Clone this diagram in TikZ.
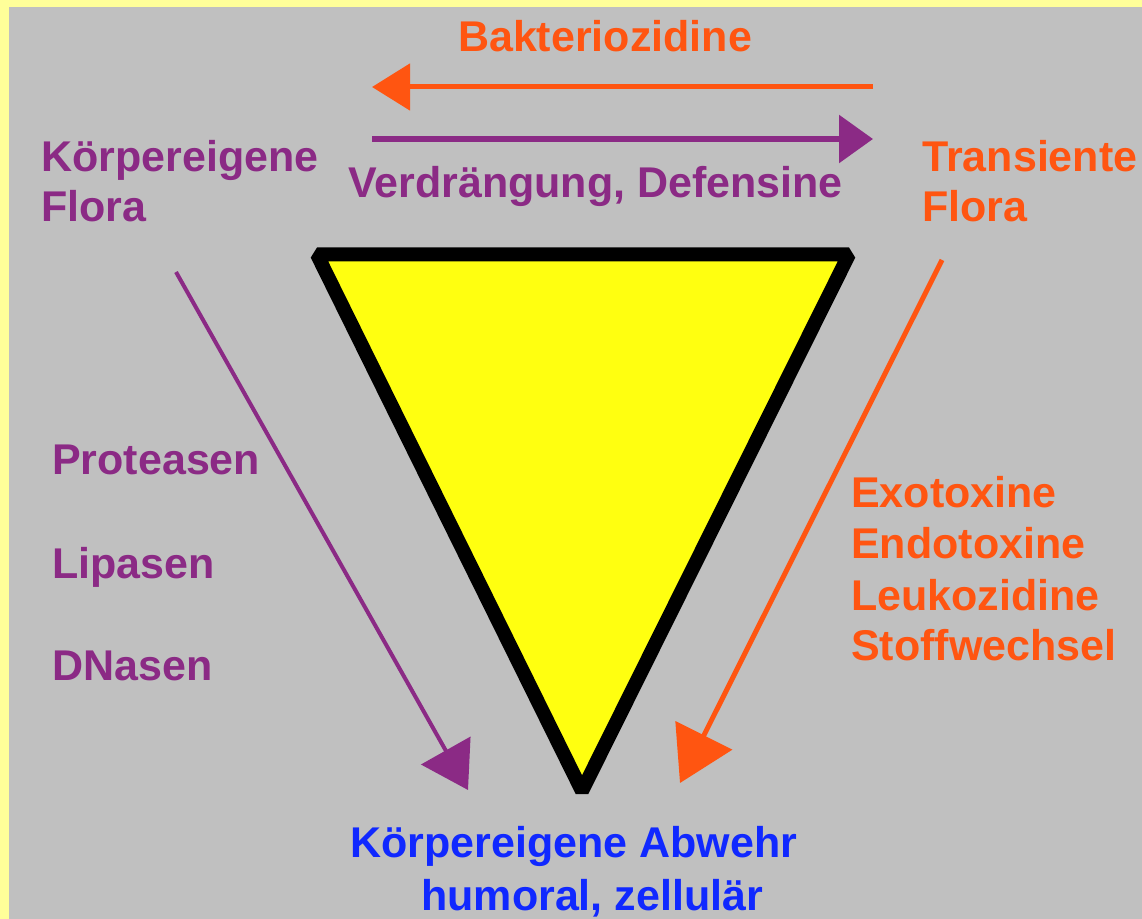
\documentclass[tikz,border=0pt]{standalone}
\usepackage{fontspec}
\setmainfont{Liberation Sans}
\usetikzlibrary{arrows.meta}
\definecolor{bgray}{HTML}{C0C0C0}
\definecolor{bordery}{HTML}{FFFF99}
\definecolor{orng}{HTML}{FF5511}
\definecolor{purp}{HTML}{8B2A85}
\definecolor{blu}{HTML}{1028FF}
\definecolor{triy}{HTML}{FFFF10}
\begin{document}
\begin{tikzpicture}[x=0.75pt,y=-0.75pt,
  lbl/.style={inner sep=0pt, anchor=base west, font=\bfseries\fontsize{32.25}{37.5}\selectfont},
  ptext/.style={lbl, text=purp},
  otext/.style={lbl, text=orng},
  btext/.style={lbl, text=blu},
  trishape/.style={draw=black, fill=triy, line width=10.5pt, line join=bevel},
  oarrow/.style={draw=orng, line width=3.75pt},
  parrow/.style={draw=purp, line width=4.5pt}]
\useasboundingbox (0,0) rectangle (1142,919);
\fill[bordery] (0,0) rectangle (1142,919);
\fill[bgray] (9,7) rectangle (1142,919);
% triangle
\draw[trishape] (317,254.5) -- (849,254.5) -- (582,791) -- cycle;
% texts
\node[ptext] (kf1) at (41,172) {Körpereigene};
\node[ptext] (kf2) at (41,222) {Flora};
\node[otext] (tf1) at (922,172) {Transiente};
\node[otext] (tf2) at (922,222) {Flora};
\node[otext, anchor=base] (bak) at (605,52) {Bakteriozidine};
\node[ptext] (verd) at (348,198) {Verdrängung, Defensine};
\node[ptext] (prot) at (52,475) {Proteasen};
\node[ptext] (lip) at (52,578) {Lipasen};
\node[ptext] (dna) at (52,680) {DNasen};
\node[otext] (exo) at (851,508) {Exotoxine};
\node[otext] (endo) at (851,558) {Endotoxine};
\node[otext] (leuk) at (851,610) {Leukozidine};
\node[otext] (stoff) at (851,660) {Stoffwechsel};
\node[btext] (abw1) at (350,857) {Körpereigene Abwehr};
\node[btext] (abw2) at (421,910) {humoral, zellulär};
% connectors
\coordinate (bakS) at (873,87);
\coordinate (bakE) at (372,87);
\coordinate (verS) at (372,139);
\coordinate (verE) at (873,139);
\coordinate (pS) at (176,272);
\coordinate (pE) at (468,790);
\coordinate (oS) at (942,260);
\coordinate (oE) at (680,783);
\draw[oarrow, -{Triangle[length=28.5pt,width=34.5pt]}] (bakS) -- (bakE);
\draw[parrow, -{Triangle[length=25.5pt,width=35.25pt]}] (verS) -- (verE);
\draw[draw=purp, line width=3pt, -{Triangle[length=34pt,width=42pt]}] (pS) -- (pE);
\draw[oarrow, -{Triangle[length=40pt,width=47pt]}] (oS) -- (oE);
\end{tikzpicture}
\end{document}
